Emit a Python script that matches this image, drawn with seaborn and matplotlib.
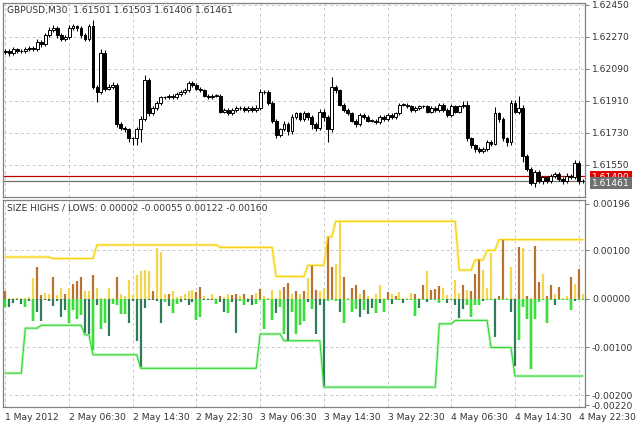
import numpy as np
import pandas as pd
import seaborn as sns
import matplotlib.pyplot as plt
import matplotlib.transforms as mtransforms

# ---- data (GBPUSD M30, 146 bars) ----
closes = [1.6219, 1.6218, 1.6220, 1.6219, 1.6219, 1.6220, 1.6221, 1.6220, 1.6224, 1.6223,
          1.6228, 1.6231, 1.6232, 1.6228, 1.6226, 1.6227, 1.6232, 1.6233, 1.6232, 1.6228,
          1.6226, 1.6233, 1.6199, 1.6196, 1.6218, 1.6198, 1.6199, 1.6200, 1.6178, 1.6176,
          1.6175, 1.6170, 1.6170, 1.6175, 1.6181, 1.6203, 1.6184, 1.6187, 1.6190, 1.6193,
          1.6193, 1.6194, 1.6193, 1.6195, 1.6196, 1.6197, 1.6201, 1.6200, 1.6198, 1.6197,
          1.6194, 1.6193, 1.6194, 1.6194, 1.6185, 1.6186, 1.6184, 1.6186, 1.6187, 1.6187,
          1.6186, 1.6187, 1.6186, 1.6187, 1.6196, 1.6196, 1.6190, 1.6180, 1.6172, 1.6175,
          1.6178, 1.6174, 1.6182, 1.6184, 1.6181, 1.6184, 1.6182, 1.6178, 1.6176, 1.6185,
          1.6182, 1.6175, 1.6199, 1.6197, 1.6189, 1.6186, 1.6184, 1.6180, 1.6178, 1.6183,
          1.6182, 1.6180, 1.6180, 1.6179, 1.6182, 1.6181, 1.6183, 1.6182, 1.6184, 1.6189,
          1.6189, 1.6188, 1.6186, 1.6187, 1.6188, 1.6188, 1.6185, 1.6187, 1.6186, 1.6189,
          1.6186, 1.6183, 1.6188, 1.6185, 1.6188, 1.6189, 1.6170, 1.6166, 1.6164, 1.6163,
          1.6164, 1.6168, 1.6167, 1.6184, 1.6181, 1.6170, 1.6168, 1.6190, 1.6185, 1.6187,
          1.6160, 1.6153, 1.6145, 1.6151, 1.6146, 1.6148, 1.6146, 1.6149, 1.6150, 1.6147,
          1.6146, 1.6149, 1.6148, 1.6156, 1.6146, 1.61461]
# wick lengths in pips
wick_up = [2, 2, 3, 2, 2, 3, 2, 2, 4, 3, 3, 3, 3, 2, 3, 2, 4, 3, 2, 2,
           2, 3, 7, 2, 5, 3, 3, 3, 2, 2, 2, 2, 2, 3, 3, 5, 2, 2, 2, 2,
           2, 2, 2, 2, 2, 3, 2, 2, 2, 2, 2, 2, 2, 2, 2, 2, 2, 2, 2, 2,
           2, 2, 2, 3, 3, 2, 2, 2, 2, 2, 3, 2, 3, 2, 2, 3, 2, 2, 2, 3,
           3, 2, 11, 2, 2, 2, 2, 2, 2, 2, 2, 2, 2, 2, 2, 2, 2, 2, 2, 2,
           2, 2, 2, 2, 2, 2, 2, 2, 2, 2, 2, 2, 3, 2, 2, 4, 4, 2, 2, 2,
           2, 2, 2, 7, 2, 2, 2, 3, 3, 14, 3, 2, 2, 2, 2, 2, 2, 2, 2, 2,
           2, 3, 2, 4, 3, 2]
wick_dn = [2, 3, 2, 2, 2, 2, 2, 2, 2, 3, 2, 2, 2, 3, 2, 2, 2, 2, 3, 3,
           3, 2, 3, 11, 2, 3, 2, 3, 3, 3, 3, 4, 7, 8, 14, 3, 3, 2, 2, 2,
           2, 2, 2, 2, 2, 2, 2, 2, 2, 2, 2, 2, 2, 2, 2, 2, 2, 2, 2, 2,
           2, 2, 2, 2, 2, 2, 2, 3, 4, 3, 2, 4, 3, 2, 3, 2, 3, 6, 4, 3,
           4, 14, 3, 3, 2, 2, 2, 2, 3, 2, 2, 2, 2, 2, 2, 2, 2, 2, 2, 2,
           2, 2, 2, 2, 2, 2, 2, 2, 2, 2, 2, 2, 2, 2, 2, 2, 3, 3, 3, 2,
           3, 2, 3, 2, 4, 3, 5, 3, 2, 3, 7, 3, 2, 5, 2, 3, 2, 2, 3, 2,
           3, 2, 2, 2, 3, 2]

highs_size = [.00015, .00002, .00002, .00002, .00002, .00002, .00003, .00043, .00065, .00007,
              .00011, .0001, .00045, .00007, .00022, .0001, .00022, .00031, .00037, .00045,
              .00015, .00015, .00049, .00022, .00002, .00002, .00022, .00002, .00045, .0001,
              .00005, .00039, .00008, .00049, .00057, .0006, .00057, .00016, .00105, .00097,
              .0001, .0001, .00015, .00003, .00006, .0001, .00015, .00017, .00013, .00025,
              .00005, .00002, .00009, .00002, .00006, .00004, .0001, .00008, .00009, .00006,
              .0001, .00002, .00008, .00012, .00019, .00005, .00002, .00017, .00002, .00018,
              .00025, .00033, .0001, .00015, .0001, .00015, .00043, .00069, .00018, .00015,
              .00022, .00128, .00066, .00072, .0016, .00045, .00002, .00022, .00029, .00009,
              .00017, .00006, .00002, .00009, .00028, .00002, .00014, .00009, .00006, .00014,
              .00002, .00002, .00011, .00009, .00002, .00029, .00058, .00018, .0002, .00026,
              .00023, .00008, .00002, .00038, .00011, .00028, .00018, .00015, .0005, .00081,
              .0006, .00023, .00095, .00002, .00006, .00121, .00002, .00066, .00002, .00107,
              .00105, .00006, .00002, .00109, .00034, .0005, .00006, .00028, .0001, .00024,
              .00002, .00005, .00045, .0003, .00062, .0001]
highs_kind = ("byyyyyyybb" "yybyybybbb" "yybyyyyyby" "yyyyyyybyy" "ybyyyyyybb"
              "yyyybyybby" "bybybyyyyy" "bbybybybby" "ybbyybybby" "byyyyybyby"
              "yyybybybbb" "yyyyybybbb" "yyyybbyyyb" "ybybbybbyb" "yybyby")
lows_size = [-.00017, -.00017, -.00009, -.00002, -.0001, -.00017, -.00004, -.00046, -.00027, -.00047,
             -.00002, -.00004, -.00015, -.00005, -.00037, -.00024, -.00051, -.00024, -.00042, -.00034,
             -.0007, -.00074, -.00107, -.00014, -.00063, -.00051, -.00077, -.0001, -.00014, -.00031,
             -.00031, -.00051, -.00005, -.00087, -.00141, -.0002, -.00002, -.00002, -.00004, -.00051,
             -.00007, -.00015, -.00029, -.0001, -.00006, -.00002, -.00014, -.00006, -.00044, -.00037,
             -.00002, -.00002, -.00002, -.0001, -.00007, -.00027, -.00029, -.00007, -.0007, -.00004,
             -.00013, -.00007, -.00014, -.0001, -.00002, -.00062, -.00002, -.00044, -.00029, -.00017,
             -.00074, -.00087, -.00027, -.00073, -.00054, -.00047, -.00006, -.00022, -.00074, -.00014,
             -.0018, -.00005, -.00003, -.00005, -.00028, -.0005, -.00003, -.00027, -.00021, -.00037,
             -.00023, -.00032, -.00019, -.0003, -.00008, -.00027, -.00002, -.00012, -.00002, -.00002,
             -.00008, -.00002, -.00002, -.00035, -.00019, -.00002, -.00007, -.00002, -.00002, -.00008,
             -.00002, -.00008, -.00002, -.00013, -.00041, -.00021, -.00013, -.00037, -.00013, -.00013,
             -.00005, -.00003, -.00002, -.0008, -.00002, -.00003, -.00002, -.00028, -.0014, -.00085,
             -.00017, -.00043, -.00145, -.00043, -.00007, -.00002, -.0005, -.00002, -.00013, -.00002,
             -.00002, -.00002, -.00023, -.00005, -.00002, -.00002]
lows_kind = ("gddddgdgdd" "ddddddgggg" "ddgdggdggg" "gddddddddd" "gdggddddgg"
             "dddgddgddg" "gddgggggdg" "gdggggdgdd" "dgggdggggd" "gddgdggdgg"
             "dgggdgdggg" "gdgdddgggg" "dggdgggddg" "ggggggggdg" "gggdgg")

# step levels of the two envelope lines: value, number of bars
hi_levels = [.00086, .00083, .00111, .00106, .00046, .00069, .00128, .0016, .00059, .0008, .001, .00122]
hi_runs = [12, 11, 31, 14, 8, 5, 2, 31, 4, 3, 3, 22]
lo_levels = [-.00154, -.00061, -.00055, -.00075, -.00116, -.00144, -.00073, -.00087,
             -.00183, -.00052, -.00045, -.00101, -.0016]
lo_runs = [5, 4, 11, 2, 12, 30, 6, 10, 29, 4, 9, 6, 18]

time_labels = ["1 May 2012", "2 May 06:30", "2 May 14:30", "2 May 22:30", "3 May 06:30",
               "3 May 14:30", "3 May 22:30", "4 May 06:30", "4 May 14:30", "4 May 22:30"]
price_ticks = [1.62450, 1.62270, 1.62090, 1.61910, 1.61730, 1.61550]
ind_ticks = [0.00196, 0.00100, 0.0, -0.00100, -0.00200, -0.00220]

# ---- build frames ----
n = len(closes)
pip = 0.0001
df = pd.DataFrame({"bar": np.arange(n), "close": closes})
df["open"] = [closes[0] - 0.00005] + closes[:-1]
df["high"] = df[["open", "close"]].max(axis=1) + np.array(wick_up) * pip / 2
df["low"] = df[["open", "close"]].min(axis=1) - np.array(wick_dn) * pip / 2
df["hi_size"] = highs_size
df["lo_size"] = lows_size
df["hi_kind"] = list(highs_kind)
df["lo_kind"] = list(lows_kind)
df["hi_line"] = np.repeat(hi_levels, hi_runs)
df["lo_line"] = np.repeat(lo_levels, lo_runs)

sns.set_style("white")
plt.rcParams["font.family"] = ["DejaVu Sans"]
fs = 6.6
grid_kw = dict(color="#c8c8c8", linestyle=(0, (3, 3)), linewidth=0.7)

fig = plt.figure(figsize=(6.37, 4.25), dpi=100)
W, H = 637, 425
ax1 = fig.add_axes([3 / W, 1 - 197 / H, 582 / W, 194 / H])
ax2 = fig.add_axes([3 / W, 1 - 407 / H, 582 / W, 207 / H])
xlim = (-0.6, n - 0.4)

for ax in (ax1, ax2):
    ax.set_xlim(*xlim)
    for s in ax.spines.values():
        s.set_color("#808080")
        s.set_linewidth(0.9)
    for t in range(0, n, 16):
        ax.axvline(t, zorder=0, **grid_kw)
    ax.yaxis.tick_right()
    ax.tick_params(axis="y", length=3, color="#808080", labelsize=fs, labelcolor="#333333", pad=2)

# ---- candles ----
up = df["close"] >= df["open"]
ax1.vlines(df["bar"], df["low"], df["high"], color="black", linewidth=0.75, zorder=2)
body_h = (df["close"] - df["open"]).abs().clip(lower=0.00002)
ax1.bar(df["bar"], body_h, bottom=df[["open", "close"]].min(axis=1), width=0.72,
        color=np.where(up, "white", "black"), edgecolor="black", linewidth=0.7, zorder=3)
ax1.set_ylim(1.61370, 1.62461)
ax1.set_yticks(price_ticks)
ax1.set_yticklabels([f"{v:.5f}" for v in price_ticks])
for v in price_ticks:
    ax1.axhline(v, zorder=0, **grid_kw)
ax1.axhline(1.61490, color="#c00000", linewidth=0.9, zorder=1)
ax1.axhline(1.61461, color="#707070", linewidth=0.9, zorder=1)
ax1.set_xticks([])
trans1 = mtransforms.blended_transform_factory(ax1.transAxes, ax1.transData)
ax1.text(1.012, 1.61482, "1.61490", transform=trans1, fontsize=fs, color="white", va="center",
         bbox=dict(boxstyle="square,pad=0.2", fc="#e00000", ec="none"))
ax1.text(1.012, 1.61448, "1.61461", transform=trans1, fontsize=fs, color="white", va="center",
         bbox=dict(boxstyle="square,pad=0.2", fc="#707070", ec="none"))
ax1.text(0.007, 0.985, "GBPUSD,M30  1.61501 1.61503 1.61406 1.61461", transform=ax1.transAxes,
         fontsize=fs, color="#333333", va="top", ha="left")

# ---- indicator ----
hi_col = {"y": "#f2d64b", "b": "#b87333"}
lo_col = {"g": "#3cdc3c", "d": "#2e7d5a"}
bright = df["lo_kind"] == "g"
ax2.vlines(df["bar"][bright], 0, df["lo_size"][bright], color="#c4f5c4", linewidth=2.6, zorder=2)
ax2.vlines(df["bar"], 0, df["hi_size"], colors=df["hi_kind"].map(hi_col).tolist(),
           linewidth=1.6, zorder=3)
ax2.vlines(df["bar"], 0, df["lo_size"], colors=df["lo_kind"].map(lo_col).tolist(),
           linewidth=1.6, zorder=3)
sns.lineplot(data=df, x="bar", y="hi_line", ax=ax2, color="#fff2a8", linewidth=2.2, zorder=2)
sns.lineplot(data=df, x="bar", y="hi_line", ax=ax2, color="#f2d20a", linewidth=0.8, zorder=4)
sns.lineplot(data=df, x="bar", y="lo_line", ax=ax2, color="#c8f5c8", linewidth=2.2, zorder=2)
sns.lineplot(data=df, x="bar", y="lo_line", ax=ax2, color="#33d633", linewidth=0.8, zorder=4)
ax2.set_ylim(-0.00224, 0.00204)
ax2.set_yticks(ind_ticks)
ax2.set_yticklabels([f"{v:.5f}" for v in ind_ticks])
for v in [0.00100, 0.0, -0.00100, -0.00200]:
    ax2.axhline(v, zorder=0, **grid_kw)
ax2.set_xticks(range(0, n, 16))
ax2.set_xticklabels(time_labels, ha="left")
ax2.tick_params(axis="x", length=3, color="#808080", labelsize=fs, labelcolor="#333333", pad=1)
ax2.set_xlabel("")
ax2.set_ylabel("")
ax2.text(0.007, 0.985, "SIZE HIGHS / LOWS: 0.00002 -0.00055 0.00122 -0.00160", transform=ax2.transAxes,
         fontsize=fs, color="#333333", va="top", ha="left")

fig.savefig("out.png", dpi=100, facecolor="white")
